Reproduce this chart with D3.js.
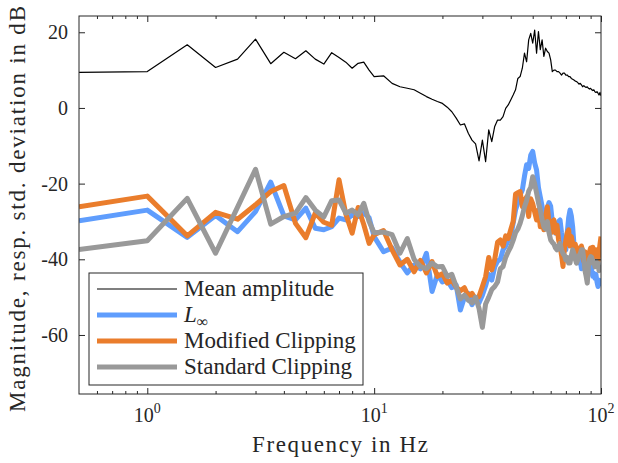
<!DOCTYPE html>
<html>
<head>
<meta charset="utf-8">
<script src="https://cdn.jsdelivr.net/npm/d3@7"></script>
<style>
body { margin: 0; background: #fff; }
svg text {
    font-family: 'Liberation Serif', 'Tinos', 'Times New Roman', 'Times', 'DejaVu Serif',
        'Noto Serif', 'FreeSerif', 'Nimbus Roman', 'Nimbus Roman No9 L', serif;
    fill: #262626;
}
</style>
</head>
<body>
<svg id="main" width="618" height="463"></svg>
<script>
const width = 618;
const height = 463;
const position = { left: 79, top: 16, right: 17, bottom: 69 };
const innerWidth = width - position.left - position.right;
const innerHeight = height - position.top - position.bottom;

// frequency grid: 0.5 Hz steps up to 10 Hz, 1 Hz steps after that
const frequency = d3.range(0.5, 10.01, 0.5).concat(d3.range(11, 101));

const meanAmplitude = [
    9.4, 9.6, 16.7, 10.7, 12.9, 18.2, 11.7, 14.7, 13.0, 15.1,
    12.9, 11.6, 14.6, 13.3, 12.1, 10.5, 11.8, 12.1, 10.0, 8.3,
    8.5, 6.5, 5.6, 5.2, 4.8, 3.9, 3.0, 2.3, 1.7, 1.2,
    0.2, -1.0, -2.7, -4.5, -4.2, -6.7, -8.5, -9.5, -14.0, -8.5,
    -14.2, -5.8, -8.9, -4.9, -3.2, -3.2, -2.3, -0.1, 0.8, 2.1,
    3.4, 4.8, 7.8, 8.3, 10.5, 14.5, 12.2, 18.0, 19.7, 17.1,
    20.6, 14.5, 20.2, 15.4, 18.0, 13.6, 15.8, 14.9, 14.5, 12.7,
    9.6, 10.0, 10.0, 9.6, 9.6, 9.2, 8.7, 9.2, 9.2, 8.7,
    8.7, 8.3, 8.3, 7.8, 7.6, 7.4, 7.1, 7.0, 6.7, 6.3,
    6.5, 6.1, 5.6, 5.9, 5.6, 5.4, 5.6, 5.2, 5.0, 5.2,
    4.8, 4.6, 4.8, 4.3, 4.1, 4.3, 3.9, 3.4, 4.1, 3.2
];
const lInf = [
    -29.8, -27.0, -34.2, -28.4, -32.7, -27.4, -19.6, -28.5, -29.6, -26.5,
    -31.8, -32.2, -31.4, -29.1, -29.6, -28.3, -28.7, -27.8, -29.0, -34.0,
    -38.0, -37.0, -40.8, -43.6, -41.5, -42.5, -38.4, -48.5, -44.0, -46.0,
    -45.5, -47.5, -46.8, -53.4, -50.0, -49.0, -52.0, -50.5, -51.5, -49.5,
    -47.0, -44.0, -45.5, -42.0, -40.5, -40.0, -37.5, -36.5, -35.0, -34.0,
    -30.5, -27.0, -25.0, -23.0, -21.7, -18.0, -15.0, -16.0, -12.5, -11.5,
    -14.5, -16.4, -21.0, -23.5, -26.0, -28.7, -27.5, -26.5, -25.0, -26.0,
    -30.0, -31.5, -33.1, -31.0, -30.0, -29.6, -33.0, -35.5, -36.0, -37.5,
    -33.0, -29.0, -27.0, -28.5, -31.4, -36.0, -38.5, -40.2, -39.0, -41.0,
    -40.0, -42.5, -42.0, -40.5, -42.5, -41.0, -43.5, -42.0, -43.0, -41.5,
    -43.0, -44.5, -43.7, -45.0, -44.0, -46.0, -47.2, -45.5, -46.5, -45.5
];
const modifiedClipping = [
    -26.1, -23.3, -33.8, -27.6, -29.4, -25.6, -22.1, -20.5, -30.5, -34.3,
    -27.8, -30.2, -31.0, -19.0, -28.0, -33.1, -26.3, -30.8, -35.8, -33.5,
    -32.4, -37.5, -41.5, -40.0, -43.3, -40.3, -43.6, -40.6, -44.5, -43.8,
    -46.3, -45.5, -47.4, -48.3, -47.5, -49.8, -49.0, -50.6, -49.8, -47.2,
    -44.6, -39.5, -42.8, -40.0, -35.5, -34.9, -36.5, -33.8, -34.5, -32.2,
    -30.0, -22.8, -22.4, -22.1, -26.1, -24.5, -23.5, -28.7, -24.0, -25.3,
    -27.5, -29.6, -27.0, -31.4, -29.0, -32.2, -28.5, -26.1, -30.5, -33.1,
    -30.0, -29.6, -33.0, -31.0, -34.9, -36.5, -39.0, -41.9, -37.0, -35.0,
    -33.0, -32.2, -36.5, -34.0, -35.8, -38.0, -36.0, -37.5, -39.5, -37.0,
    -38.5, -36.5, -37.8, -40.5, -38.0, -41.0, -39.0, -40.5, -38.0, -37.0,
    -39.5, -36.8, -38.5, -41.0, -37.5, -39.5, -40.5, -38.0, -36.0, -34.0
];
const standardClipping = [
    -37.4, -35.1, -23.9, -38.4, -26.2, -16.2, -30.7, -28.7, -27.8, -23.7,
    -27.0, -28.8, -24.5, -24.3, -27.8, -27.0, -28.3, -25.2, -30.0, -33.0,
    -32.8, -33.5, -38.4, -34.5, -40.0, -41.9, -42.5, -41.0, -42.0, -41.9,
    -44.5, -44.0, -47.2, -50.5, -49.5, -50.8, -51.5, -50.0, -53.0, -58.0,
    -51.8, -50.0, -48.0, -47.2, -46.0, -42.5, -41.9, -39.5, -38.0, -36.7,
    -35.0, -33.0, -32.0, -30.5, -28.5, -26.1, -24.5, -22.0, -21.0, -18.2,
    -20.0, -22.5, -25.0, -27.0, -29.5, -31.4, -32.0, -30.0, -33.0, -34.9,
    -35.5, -36.0, -37.0, -37.5, -36.5, -35.8, -37.5, -38.5, -39.0, -40.2,
    -39.5, -41.0, -41.0, -39.0, -37.5, -38.5, -40.0, -41.0, -40.2, -39.0,
    -38.5, -37.5, -37.5, -40.0, -43.0, -44.5, -46.3, -42.0, -40.0, -39.3,
    -39.5, -41.0, -40.5, -42.0, -40.5, -41.5, -41.0, -43.0, -42.0, -41.5
];

const yTicks = [-60, -40, -20, 0, 20];
const xMajorTicks = [1, 10, 100];
const xMajorExponents = ['0', '1', '2'];
const xMinorTicks = [0.6, 0.7, 0.8, 0.9, 2, 3, 4, 5, 6, 7, 8, 9, 20, 30, 40, 50, 60, 70, 80, 90];
const seriesNames = ['Mean amplitude', 'L', 'Modified Clipping', 'Standard Clipping'];

const series = [
    { name: seriesNames[1], values: lInf, color: '#5f9dfd', width: 5 },
    { name: seriesNames[2], values: modifiedClipping, color: '#ea7d2c', width: 5 },
    { name: seriesNames[3], values: standardClipping, color: '#999999', width: 5 },
    { name: seriesNames[0], values: meanAmplitude, color: '#000000', width: 1.2 }
];

const svg = d3.select('#main');
const mainGroup = svg
    .append('g')
    .attr('transform', `translate(${position.left}, ${position.top})`);

const x = d3.scaleLog().domain([0.5, 100]).range([0, innerWidth]);
const y = d3.scaleLinear().domain([-75.6, 24.3]).range([innerHeight, 0]);

mainGroup.append('clipPath')
    .attr('id', 'plotClip')
    .append('rect')
    .attr('width', innerWidth)
    .attr('height', innerHeight);

const line = d3.line()
    .x((d, i) => x(frequency[i]))
    .y(d => y(d));

// colored lines first, the thin black mean on top
mainGroup.append('g')
    .attr('clip-path', 'url(#plotClip)')
    .selectAll('path')
    .data(series)
    .join('path')
    .attr('fill', 'none')
    .attr('stroke', d => d.color)
    .attr('stroke-width', d => d.width)
    .attr('stroke-linejoin', 'round')
    .attr('d', d => line(d.values));

// ticks on all four sides, pointing inward
const tickStyle = g => {
    g.select('.domain').remove();
    g.selectAll('line').attr('stroke', '#262626');
    g.selectAll('text').remove();
};
mainGroup.append('g')
    .attr('transform', `translate(0, ${innerHeight})`)
    .call(d3.axisBottom(x).tickValues(xMinorTicks).tickSize(-3))
    .call(tickStyle);
mainGroup.append('g')
    .attr('transform', `translate(0, ${innerHeight})`)
    .call(d3.axisBottom(x).tickValues(xMajorTicks).tickSize(-6))
    .call(tickStyle);
mainGroup.append('g')
    .call(d3.axisTop(x).tickValues(xMinorTicks).tickSize(-3))
    .call(tickStyle);
mainGroup.append('g')
    .call(d3.axisTop(x).tickValues(xMajorTicks).tickSize(-6))
    .call(tickStyle);
mainGroup.append('g')
    .call(d3.axisLeft(y).tickValues(yTicks).tickSize(-6))
    .call(tickStyle);
mainGroup.append('g')
    .attr('transform', `translate(${innerWidth}, 0)`)
    .call(d3.axisRight(y).tickValues(yTicks).tickSize(-6))
    .call(tickStyle);

mainGroup.append('rect')
    .attr('width', innerWidth)
    .attr('height', innerHeight)
    .attr('fill', 'none')
    .attr('stroke', '#262626')
    .attr('stroke-width', 1);

// tick labels
mainGroup.selectAll('.ylabel')
    .data(yTicks)
    .join('text')
    .attr('class', 'ylabel')
    .attr('x', -11)
    .attr('y', d => y(d) + 7)
    .attr('text-anchor', 'end')
    .attr('font-size', 20)
    .text(d => d);

const xLabels = mainGroup.selectAll('.xlabel')
    .data(xMajorTicks)
    .join('text')
    .attr('class', 'xlabel')
    .attr('x', d => x(d))
    .attr('y', innerHeight + 28)
    .attr('text-anchor', 'middle')
    .attr('font-size', 20);
xLabels.append('tspan').text('10');
xLabels.append('tspan')
    .attr('dy', -9)
    .attr('font-size', 14)
    .text((d, i) => xMajorExponents[i]);

// axis titles
svg.append('text')
    .attr('x', position.left + innerWidth / 2)
    .attr('y', 452)
    .attr('text-anchor', 'middle')
    .attr('font-size', 23)
    .attr('textLength', 176)
    .attr('lengthAdjust', 'spacing')
    .text('Frequency in Hz');

svg.append('text')
    .attr('transform', 'translate(25, 209) rotate(-90)')
    .attr('text-anchor', 'middle')
    .attr('font-size', 23)
    .attr('textLength', 406)
    .attr('lengthAdjust', 'spacing')
    .text('Magnitude, resp. std. deviation in dB');

// legend
const legend = svg.append('g').attr('transform', 'translate(89, 273)');
legend.append('rect')
    .attr('width', 274)
    .attr('height', 112)
    .attr('fill', '#fff')
    .attr('stroke', '#262626')
    .attr('stroke-width', 1);

const legendItems = [series[3], series[0], series[1], series[2]];
const rows = legend.selectAll('.item')
    .data(legendItems)
    .join('g')
    .attr('class', 'item')
    .attr('transform', (d, i) => `translate(0, ${16 + i * 26})`);
rows.append('line')
    .attr('x1', 8)
    .attr('x2', 88)
    .attr('stroke', d => d.color)
    .attr('stroke-width', d => d.width);
const labels = rows.append('text')
    .attr('x', 95)
    .attr('y', 7)
    .attr('font-size', 23);
labels.filter(d => d.name !== 'L').text(d => d.name);
const lLabel = labels.filter(d => d.name === 'L');
lLabel.append('tspan').attr('font-style', 'italic').text('L');
lLabel.append('tspan').attr('dy', 5).attr('font-size', 16).text('∞');
</script>
</body>
</html>
